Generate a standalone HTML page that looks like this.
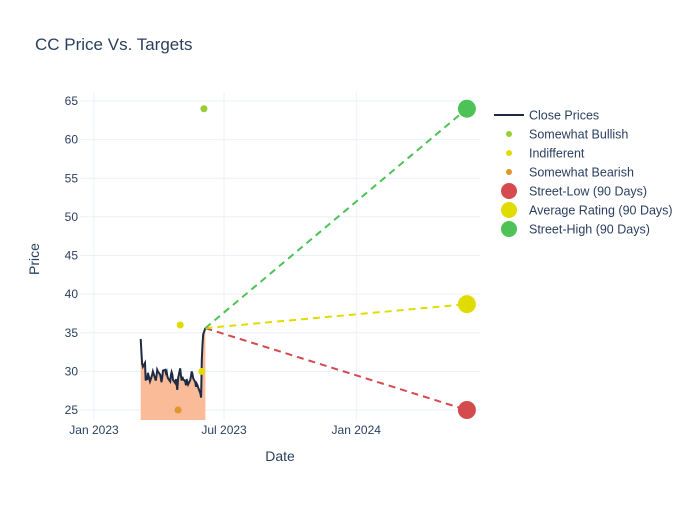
<!DOCTYPE html>
<html><head><meta charset="utf-8"><style>
body{margin:0;background:#fff;font-family:"Liberation Sans",sans-serif;}
svg text{font-family:"Liberation Sans",sans-serif;}
</style></head><body>
<svg id="chart" width="700" height="500" xmlns="http://www.w3.org/2000/svg">
<rect width="700" height="500" fill="#fff"/>
<text x="35" y="50" font-size="17" fill="#2a3f5f">CC Price Vs. Targets</text>
<g id="grid"></g>
<g id="marks"></g>
<text x="280" y="461" font-size="14" fill="#2a3f5f" text-anchor="middle">Date</text>
<text x="39" y="259" font-size="14" fill="#2a3f5f" text-anchor="middle" transform="rotate(-90 39 259)">Price</text>
<g id="legend"></g>
</svg>
<script>
const yTicks=[25,30,35,40,45,50,55,60,65];
const xTickDates=["2023-01-01","2023-07-01","2024-01-01"];
const xTickLabels=["Jan 2023","Jul 2023","Jan 2024"];
const priceStart="2023-03-07";
const closePrices=[34.2,32.5,31.0,30.6,31.1,28.8,29.3,28.9,29.8,28.7,29.0,29.3,29.6,30.0,29.1,28.8,29.4,30.2,30.0,29.6,29.2,28.6,29.3,30.1,30.2,29.8,30.0,29.4,29.1,28.7,29.5,29.9,29.6,28.9,28.5,29.0,28.3,27.6,29.1,30.4,29.5,28.8,29.3,29.0,28.7,28.2,29.0,28.6,28.3,28.9,29.4,30.0,29.7,29.1,28.6,28.0,28.4,28.2,27.9,27.2,26.6,31.5,33.5,34.8,35.6];
const bullishDates=["2023-06-03"], bullishVals=[64];
const indiffDates=["2023-05-01","2023-05-31"], indiffVals=[36,30];
const bearishDates=["2023-04-28"], bearishVals=[25];
const targetStart="2023-06-05", targetStartVal=35.6;
const targetEnd="2024-06-03";
const streetLow=25, avgRating=38.7, streetHigh=64;

const NS="http://www.w3.org/2000/svg";
const day=d=>Date.parse(d)/86400000;
const x0=day("2023-01-01");
const X=d=>94+(day(d)-x0)*0.7185;
const Y=v=>410-(v-25)*7.725;
const L=80,R=480,T=92,B=420;
function mk(tag,attrs,parent){const e=document.createElementNS(NS,tag);for(const k in attrs)e.setAttribute(k,attrs[k]);parent.appendChild(e);return e;}
const grid=document.getElementById('grid'),marks=document.getElementById('marks'),leg=document.getElementById('legend');
yTicks.forEach(v=>{
 const l=mk('line',{x1:L,x2:R,y1:Y(v),y2:Y(v),stroke:'#ebf0f8','stroke-width':1},grid);
 
 
 const t=mk('text',{x:78,y:Y(v)+4,'font-size':12,fill:'#2a3f5f','text-anchor':'end'},grid);t.textContent=v;
 
 
});
xTickDates.forEach((d,i)=>{
 const l=mk('line',{x1:X(d),x2:X(d),y1:T,y2:B,stroke:'#ebf0f8','stroke-width':1},grid);
 
 
 const t=mk('text',{x:X(d),y:434,'font-size':12,fill:'#2a3f5f','text-anchor':'middle'},grid);t.textContent=xTickLabels[i];
 
 
});
const pDates=[];let dd=new Date(priceStart+"T00:00:00Z");
while(pDates.length<closePrices.length){const w=dd.getUTCDay();if(w!==0&&w!==6)pDates.push(dd.toISOString().slice(0,10));dd=new Date(dd.getTime()+86400000);}
let pts=closePrices.map((v,i)=>X(pDates[i]).toFixed(1)+','+Y(v).toFixed(1));
const area=mk('polygon',{points:X(pDates[0])+','+B+' '+pts.join(' ')+' '+X(pDates[pDates.length-1])+','+B,fill:'#f9b48e',opacity:0.9},marks);


const line=mk('polyline',{points:pts.join(' '),fill:'none',stroke:'#1f2a44','stroke-width':2},marks);


const tg=[[streetLow,'#d44a4f','street-low'],[avgRating,'#e0dc00','average-rating'],[streetHigh,'#4cc257','street-high']];
tg.forEach(([v,c,n])=>{
 const l=mk('line',{x1:X(targetStart),y1:Y(targetStartVal),x2:X(targetEnd),y2:Y(v),stroke:c,'stroke-width':2,'stroke-dasharray':'7,5'},marks);
 
 
});
function dots(ds,vs,c,n){ds.forEach((d,i)=>{const e=mk('circle',{cx:X(d),cy:Y(vs[i]),r:3.5,fill:c},marks);
 
 });}
dots(bullishDates,bullishVals,'#9acd32','somewhat-bullish-point');
dots(indiffDates,indiffVals,'#e0dc00','indifferent-point');
dots(bearishDates,bearishVals,'#e0962a','somewhat-bearish-point');
tg.forEach(([v,c,n])=>{const e=mk('circle',{cx:X(targetEnd),cy:Y(v),r:9,fill:c},marks);
 
 });
const items=[['Close Prices','line','#1f2a44'],['Somewhat Bullish',3,'#9acd32'],['Indifferent',3,'#e0dc00'],['Somewhat Bearish',3,'#e0962a'],['Street-Low (90 Days)',8,'#d44a4f'],['Average Rating (90 Days)',8,'#e0dc00'],['Street-High (90 Days)',8,'#4cc257']];
items.forEach((it,i)=>{const y=115+i*19;
 const g=mk('g',{},leg);
 
 
 if(it[1]==='line')mk('line',{x1:494,x2:524,y1:y,y2:y,stroke:it[2],'stroke-width':2},g);
 else mk('circle',{cx:509,cy:y,r:it[1],fill:it[2]},g);
 const t=mk('text',{x:529,y:y+4.5,'font-size':12.5,fill:'#2a3f5f'},g);t.textContent=it[0];
});
</script>
</body></html>
